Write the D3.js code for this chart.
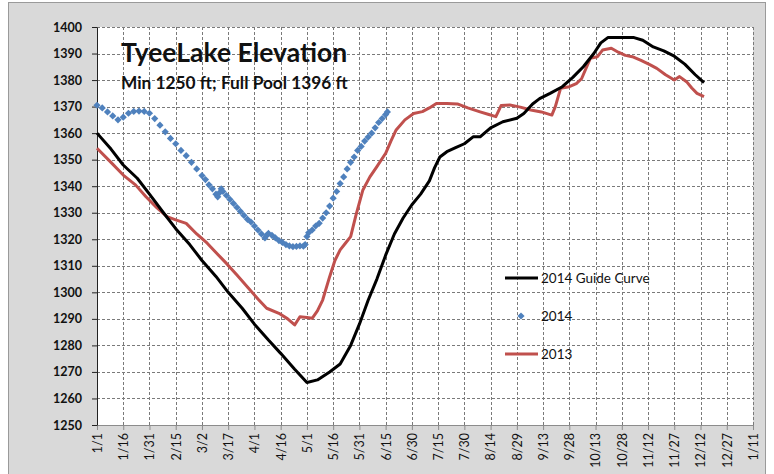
<!DOCTYPE html>
<html>
<head>
<meta charset="utf-8">
<script src="https://cdn.jsdelivr.net/npm/d3@7"></script>
<style>
  body { margin: 0; background: #fff; }
  svg text { font-family: Lato, "Open Sans", sans-serif; fill: #111; }
</style>
</head>
<body>
<svg id="chart" width="774" height="474"></svg>
<script>
// day of year (0 = Jan 1) and elevation in ft
const guideCurve2014 = [
  [0, 1360], [8, 1354], [15, 1348], [23, 1343], [30, 1337], [38, 1330], [45, 1324],
  [53, 1318], [60, 1312], [68, 1306], [75, 1300], [83, 1294], [90, 1288], [98, 1282],
  [105, 1277], [113, 1271], [120, 1266], [126, 1267], [133, 1270], [139, 1273],
  [145, 1280], [150, 1288], [155, 1297], [160, 1305], [165, 1314], [170, 1322],
  [175, 1328], [180, 1333], [185, 1337], [190, 1342], [193, 1347], [196, 1351],
  [200, 1353], [205, 1354.5], [210, 1356], [215, 1358.6], [219, 1358.6], [225, 1362],
  [232, 1364.3], [240, 1365.6], [244, 1367.4], [249, 1371], [253, 1373], [259, 1375],
  [266, 1377.5], [272, 1381], [278, 1385], [284, 1390], [288, 1394], [292, 1396],
  [300, 1396], [307, 1396], [312, 1395], [318, 1392.5], [324, 1391], [330, 1389],
  [336, 1386], [342, 1382], [347, 1379]
];

const lake2014 = [
  [0, 1370.5], [3, 1369.5], [6, 1368], [9, 1366.5], [12, 1365], [15, 1366], [18, 1367.5],
  [21, 1368.2], [24, 1368.3], [27, 1368.2], [30, 1367.5], [33, 1365.5], [36, 1363],
  [39, 1360.5], [42, 1358], [45, 1356], [48, 1353.5], [51, 1351.5], [54, 1349],
  [57, 1346.5], [60, 1344], [62, 1342.5], [64, 1340.5], [66, 1339], [68, 1337],
  [69, 1336], [70, 1337.5], [71, 1339], [72, 1338], [74, 1336.5], [76, 1335],
  [78, 1333.5], [80, 1332], [82, 1330.5], [84, 1329], [86, 1327.5], [88, 1326.5],
  [90, 1325], [92, 1323.5], [94, 1322], [96, 1320.5], [97, 1321.5], [98, 1322.2],
  [100, 1321.5], [102, 1320.5], [104, 1319.5], [106, 1318.8], [108, 1318], [110, 1317.5],
  [112, 1317.2], [114, 1317.3], [116, 1317.5], [118, 1317.4], [119, 1318], [120, 1321],
  [121, 1322.5], [123, 1323.5], [125, 1325], [127, 1326], [129, 1328], [131, 1330],
  [133, 1332.5], [135, 1335.5], [137, 1338], [139, 1341], [141, 1343.5], [143, 1346.5],
  [145, 1349], [147, 1351], [149, 1353.5], [151, 1355], [153, 1357], [155, 1358.5],
  [157, 1360], [159, 1362], [161, 1364], [163, 1365.5], [165, 1367], [166, 1368]
];

const lake2013 = [
  [0, 1354.3], [8, 1349], [15, 1344.2], [22, 1340.5], [28, 1336], [34, 1332],
  [40, 1328.5], [45, 1327.3], [51, 1326], [57, 1322], [63, 1318.5], [68, 1315],
  [74, 1310.9], [80, 1306.5], [86, 1302], [92, 1297.5], [97, 1294], [104, 1292.1],
  [109, 1290], [113, 1287.7], [116, 1290.8], [120, 1290.5], [123, 1290.2], [126, 1293],
  [129, 1297.1], [133, 1305.9], [136, 1312], [139, 1316], [142, 1318.5], [145, 1321],
  [148, 1329], [152, 1338.6], [156, 1343.5], [160, 1347.4], [165, 1352.4], [168, 1357],
  [171, 1361.2], [176, 1365], [181, 1367.4], [186, 1368.1], [190, 1369.5], [194, 1371.2],
  [200, 1371.2], [206, 1371], [212, 1369.5], [219, 1368], [224, 1367], [228, 1366.2],
  [231, 1370.4], [236, 1370.6], [242, 1369.8], [248, 1368.7], [254, 1368], [260, 1366.8],
  [262, 1370], [265, 1376.9], [270, 1377.5], [274, 1378.7], [277, 1380.5], [282, 1388.2],
  [286, 1388.8], [289, 1391.3], [294, 1392], [298, 1390.5], [302, 1389.3], [306, 1388.8],
  [311, 1387.4], [316, 1385.8], [320, 1384.4], [325, 1382], [330, 1380], [333, 1381.3],
  [337, 1379.4], [340, 1377], [343, 1375], [347, 1373.8]
];

const xTickDays = d3.range(0, 376, 15);
const xTickLabels = ['1/1', '1/16', '1/31', '2/15', '3/2', '3/17', '4/1', '4/16', '5/1',
  '5/16', '5/31', '6/15', '6/30', '7/15', '7/30', '8/14', '8/29', '9/13', '9/28',
  '10/13', '10/28', '11/12', '11/27', '12/12', '12/27', '1/11'];
const yTicks = d3.range(1250, 1401, 10);

const legendItems = [
  { name: '2014 Guide Curve', type: 'line', color: '#000000' },
  { name: '2014', type: 'marker', color: '#4f81bd' },
  { name: '2013', type: 'line', color: '#c0504d' }
];

const svg = d3.select('#chart');
const plot = { left: 97, right: 753, top: 27, bottom: 425 };

const x = d3.scaleLinear().domain([0, 375]).range([plot.left, plot.right]);
const y = d3.scaleLinear().domain([1250, 1400]).range([plot.bottom, plot.top]);

// outer chart panel
svg.append('rect')
  .attr('x', 8.5).attr('y', 2.5)
  .attr('width', 757).attr('height', 480)
  .attr('fill', '#d9d9d9')
  .attr('stroke', '#9a9a9a');

svg.append('rect')
  .attr('x', plot.left).attr('y', plot.top)
  .attr('width', plot.right - plot.left).attr('height', plot.bottom - plot.top)
  .attr('fill', '#fff');

// grid
const grid = svg.append('g').attr('stroke', '#7a7a7a').attr('stroke-width', 1)
  .attr('stroke-dasharray', '3,2');
grid.selectAll('line.v').data(xTickDays.slice(1)).enter().append('line')
  .attr('x1', (d) => Math.round(x(d)) + 0.5).attr('x2', (d) => Math.round(x(d)) + 0.5)
  .attr('y1', plot.top).attr('y2', plot.bottom);
grid.selectAll('line.h').data(yTicks.slice(1)).enter().append('line')
  .attr('y1', (d) => Math.round(y(d)) + 0.5).attr('y2', (d) => Math.round(y(d)) + 0.5)
  .attr('x1', plot.left).attr('x2', plot.right);

// axes
const xAxis = svg.append('g')
  .attr('transform', `translate(0,${plot.bottom})`)
  .call(d3.axisBottom(x).tickValues(xTickDays).tickSize(5).tickSizeOuter(0)
    .tickFormat((d, i) => xTickLabels[i]));
xAxis.select('.domain').attr('stroke', '#8c8c8c');
xAxis.selectAll('.tick line').attr('stroke', '#8c8c8c');
xAxis.selectAll('.tick text')
  .attr('font-size', 12.5)
  .attr('font-family', 'Lato, sans-serif')
  .attr('fill', '#111')
  .attr('text-anchor', 'end')
  .attr('transform', 'rotate(-90)')
  .attr('x', -8).attr('y', 0).attr('dy', '0.35em');

const yAxis = svg.append('g')
  .attr('transform', `translate(${plot.left},0)`)
  .call(d3.axisLeft(y).tickValues(yTicks).tickSize(5).tickSizeOuter(0)
    .tickFormat(d3.format('d')));
yAxis.select('.domain').attr('stroke', '#222');
yAxis.selectAll('.tick line').attr('stroke', '#222');
yAxis.selectAll('.tick text')
  .attr('font-size', 12.5)
  .attr('font-weight', 'bold')
  .attr('font-family', 'Lato, sans-serif')
  .attr('fill', '#111')
  .attr('x', -15);

// series
const line = d3.line().x((d) => x(d[0])).y((d) => y(d[1]));

svg.append('path').datum(lake2013)
  .attr('fill', 'none').attr('stroke', '#c0504d').attr('stroke-width', 3)
  .attr('stroke-linejoin', 'round').attr('d', line);

svg.append('path').datum(guideCurve2014)
  .attr('fill', 'none').attr('stroke', '#000').attr('stroke-width', 3)
  .attr('stroke-linejoin', 'round').attr('d', line);

// square diamond marker, like Excel's
const diamond = 'M0,-3.6L3.6,0L0,3.6L-3.6,0Z';
svg.append('g').selectAll('path').data(lake2014).enter().append('path')
  .attr('d', diamond)
  .attr('transform', (d) => `translate(${x(d[0])},${y(d[1])})`)
  .attr('fill', '#4f81bd');

// title
svg.append('text').attr('x', 121).attr('y', 62)
  .attr('font-size', 26.5).attr('font-weight', 'bold')
  .text('TyeeLake Elevation');
svg.append('text').attr('x', 121).attr('y', 89)
  .attr('font-size', 17.3).attr('font-weight', 'bold')
  .text('Min 1250 ft; Full Pool 1396 ft');

// legend
const legend = svg.append('g');
legendItems.forEach((item, i) => {
  const ly = 278 + i * 38;
  if (item.type === 'line') {
    legend.append('line').attr('x1', 505).attr('x2', 538).attr('y1', ly).attr('y2', ly)
      .attr('stroke', item.color).attr('stroke-width', 3);
  } else {
    legend.append('path').attr('d', diamond)
      .attr('transform', `translate(521,${ly})`).attr('fill', item.color);
  }
  legend.append('text').attr('x', 541).attr('y', ly).attr('dy', '0.35em')
    .attr('font-size', 13.5).text(item.name);
});
</script>
</body>
</html>
